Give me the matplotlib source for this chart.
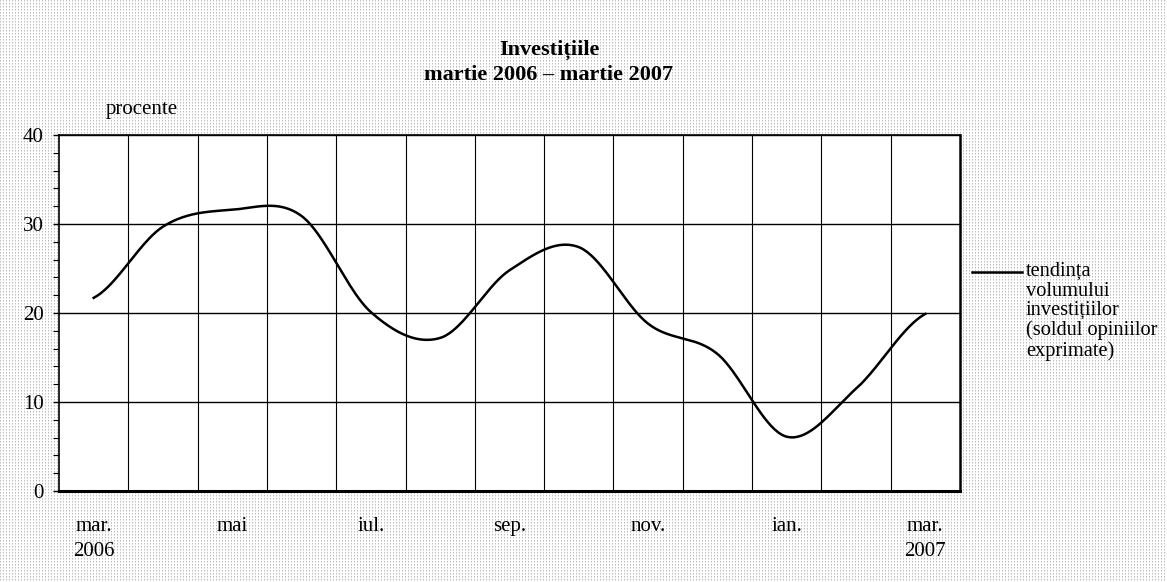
import numpy as np
import matplotlib
matplotlib.use('Agg')
import matplotlib.pyplot as plt
from matplotlib.lines import Line2D

# date: soldul opiniilor, mar. 2006 - mar. 2007
luni = ['mar.', 'apr.', 'mai', 'iun.', 'iul.', 'aug.', 'sep.', 'oct.', 'nov.', 'dec.', 'ian.', 'feb.', 'mar.']
etichete = ['mar.\n2006', 'mai', 'iul.', 'sep.', 'nov.', 'ian.', 'mar.\n2007']
investitii = [21.7, 29.7, 31.6, 30.9, 20.1, 17.2, 24.8, 27.4, 18.8, 15.4, 6.1, 11.5, 19.9]


def netezire(y, n=40):
    # linie netezita ca in excel (catmull-rom)
    y = np.asarray(y, float)
    p = np.concatenate([[y[0]], y, [y[-1]]])
    xs = []
    ys = []
    t = np.linspace(0, 1, n, endpoint=False)
    for i in range(len(y) - 1):
        p0, p1, p2, p3 = p[i], p[i + 1], p[i + 2], p[i + 3]
        m1 = (p2 - p0) / 2.0
        m2 = (p3 - p1) / 2.0
        h00 = 2 * t**3 - 3 * t**2 + 1
        h10 = t**3 - 2 * t**2 + t
        h01 = -2 * t**3 + 3 * t**2
        h11 = t**3 - t**2
        xs.append(i + t)
        ys.append(h00 * p1 + h10 * m1 + h01 * p2 + h11 * m2)
    xs.append([len(y) - 1])
    ys.append([y[-1]])
    return np.concatenate(xs), np.concatenate(ys)


plt.rcParams['font.family'] = ['Liberation Serif', 'DejaVu Serif']

W, H = 1167, 582
fig = plt.figure(figsize=(W / 100.0, H / 100.0), dpi=100, facecolor='white')

# fundal punctat
fundal = np.ones((H, W, 3))
yy, xx = np.mgrid[0:H, 0:W]
fundal[(xx % 3 == 0) & (yy % 3 == 0)] = 0.74
fundal[(xx % 3 == 0) & (yy % 3 == 1)] = 0.87
fig.figimage(fundal, xo=0, yo=0, zorder=-10)

ax = fig.add_axes([59 / W, 91 / H, 901 / W, 356 / H])
ax.set_zorder(1)
ax.set_facecolor('white')

x, y = netezire(investitii)
ax.plot(x, y, color='black', lw=1.8, zorder=3)

ax.set_xlim(-0.5, len(luni) - 0.5)
ax.set_ylim(0, 40)

ax.set_yticks([0, 10, 20, 30, 40])
ax.set_yticks(np.arange(0, 41, 2), minor=True)
ax.set_xticks(range(0, len(luni), 2))
ax.set_xticklabels(etichete)
ax.set_xticks(np.arange(0.5, len(luni) - 1, 1), minor=True)
for lbl in ax.get_xticklabels():
    lbl.set_linespacing(1.4)

ax.tick_params(axis='y', which='major', length=4.5, width=1, pad=6.5, labelsize=15, direction='out')
ax.tick_params(axis='y', which='minor', length=4.5, width=0.8, direction='out')
ax.tick_params(axis='x', which='both', length=0, pad=19, labelsize=15)

ax.grid(True, axis='y', which='major', color='black', lw=1.0)
ax.grid(True, axis='x', which='minor', color='black', lw=0.8)
ax.set_axisbelow(True)

ax.spines['bottom'].set_linewidth(2.2)
ax.spines['left'].set_linewidth(1.2)
ax.spines['top'].set_linewidth(1.2)
ax.spines['right'].set_linewidth(1.8)

fig.text(549 / W, 1 - 55 / H, 'Investițiile', ha='center', va='baseline', weight='bold', size=16)
fig.text(549 / W, 1 - 80 / H, 'martie 2006 – martie 2007', ha='center', va='baseline', weight='bold', size=16)
fig.text(106 / W, 1 - 114 / H, 'procente', ha='left', va='baseline', size=15)

# legenda
fig.add_artist(Line2D([972 / W, 1022 / W], [1 - 272 / H, 1 - 272 / H], transform=fig.transFigure, color='black', lw=1.8))
fig.text(1026 / W, 1 - 262 / H, 'tendința\nvolumului\ninvestițiilor\n(soldul opiniilor\nexprimate)',
         ha='left', va='top', size=14.7, linespacing=1.04)

fig.savefig('out.png', dpi=100, facecolor='white')
